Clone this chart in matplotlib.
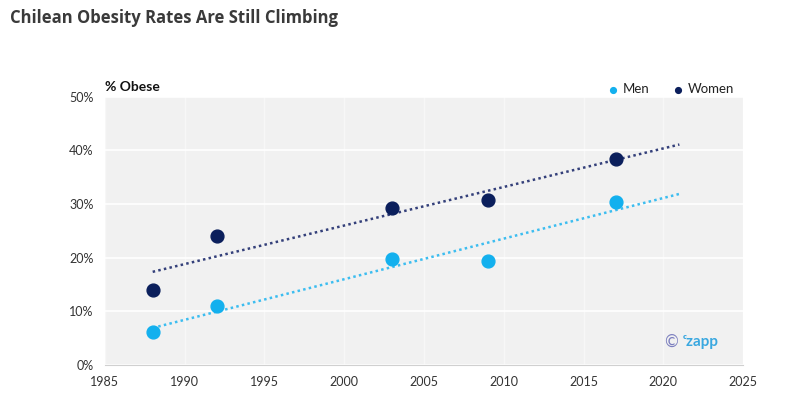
import numpy as np
import matplotlib.pyplot as plt

plt.rcParams['font.family'] = ['Lato', 'DejaVu Sans']

years_men = [1988, 1992, 2003, 2009, 2017]
men = [6.2, 11.0, 19.8, 19.4, 30.4]
years_women = [1988, 1992, 2003, 2009, 2017]
women = [14.0, 24.1, 29.3, 30.7, 38.4]
trend_range = (1988, 2021)

c_men = '#13B0EE'
c_women = '#0B1F5C'

fig = plt.figure(figsize=(8, 4.12), dpi=100)
ax = fig.add_axes([0.131, 0.114, 0.798, 0.651])
ax.set_facecolor('#F1F1F1')

# trend lines (least squares)
xt = np.array(trend_range)
for xs, ys, col in [(years_men, men, '#3CBDF0'), (years_women, women, '#34407A')]:
    k, b = np.polyfit(xs, ys, 1)
    ax.plot(xt, k * xt + b, color=col, linestyle=(0, (1, 1.3)), linewidth=1.8, zorder=2)

ax.scatter(years_men, men, s=85, color=c_men, zorder=3, label='Men')
ax.scatter(years_women, women, s=85, color=c_women, zorder=3, label='Women')

ax.set_xlim(1985, 2025)
ax.set_ylim(0, 50)
ax.set_xticks(range(1985, 2030, 5))
ax.set_yticks(range(0, 60, 10))
ax.set_yticklabels([f'{v}%' for v in range(0, 60, 10)])
ax.grid(True, axis='y', color='white', linewidth=1.2)
ax.grid(True, axis='x', color='#F7F7F7', linewidth=1.0)
ax.set_axisbelow(True)
for s in ['top', 'right', 'left']:
    ax.spines[s].set_visible(False)
ax.spines['bottom'].set_color('#D0D0D0')
ax.tick_params(length=0, labelsize=9, colors='#333333', pad=8)

ax.text(0.0, 1.015, '% Obese', transform=ax.transAxes, fontsize=10,
        fontweight='bold', color='#111111', va='bottom', ha='left')
ax.legend(loc='lower right', bbox_to_anchor=(1.005, 0.962), ncol=2, frameon=False,
          fontsize=9.5, handletextpad=-0.2, columnspacing=1.1, markerscale=0.45,
          labelcolor='#222222')

ax.text(0.898, 0.085, '©', transform=ax.transAxes, ha='right', va='center',
        fontsize=12, color='#7C7FBF')
ax.text(0.906, 0.085, 'ᶜzapp', transform=ax.transAxes, ha='left', va='center',
        fontsize=11, color='#3AA8E0', fontweight='bold')

fig.text(0.0125, 0.945, 'Chilean Obesity Rates Are Still Climbing',
         fontsize=12, fontweight='bold', color='#3A3A3A',
         family=['Open Sans', 'DejaVu Sans'])

fig.savefig('out.png', dpi=100)
